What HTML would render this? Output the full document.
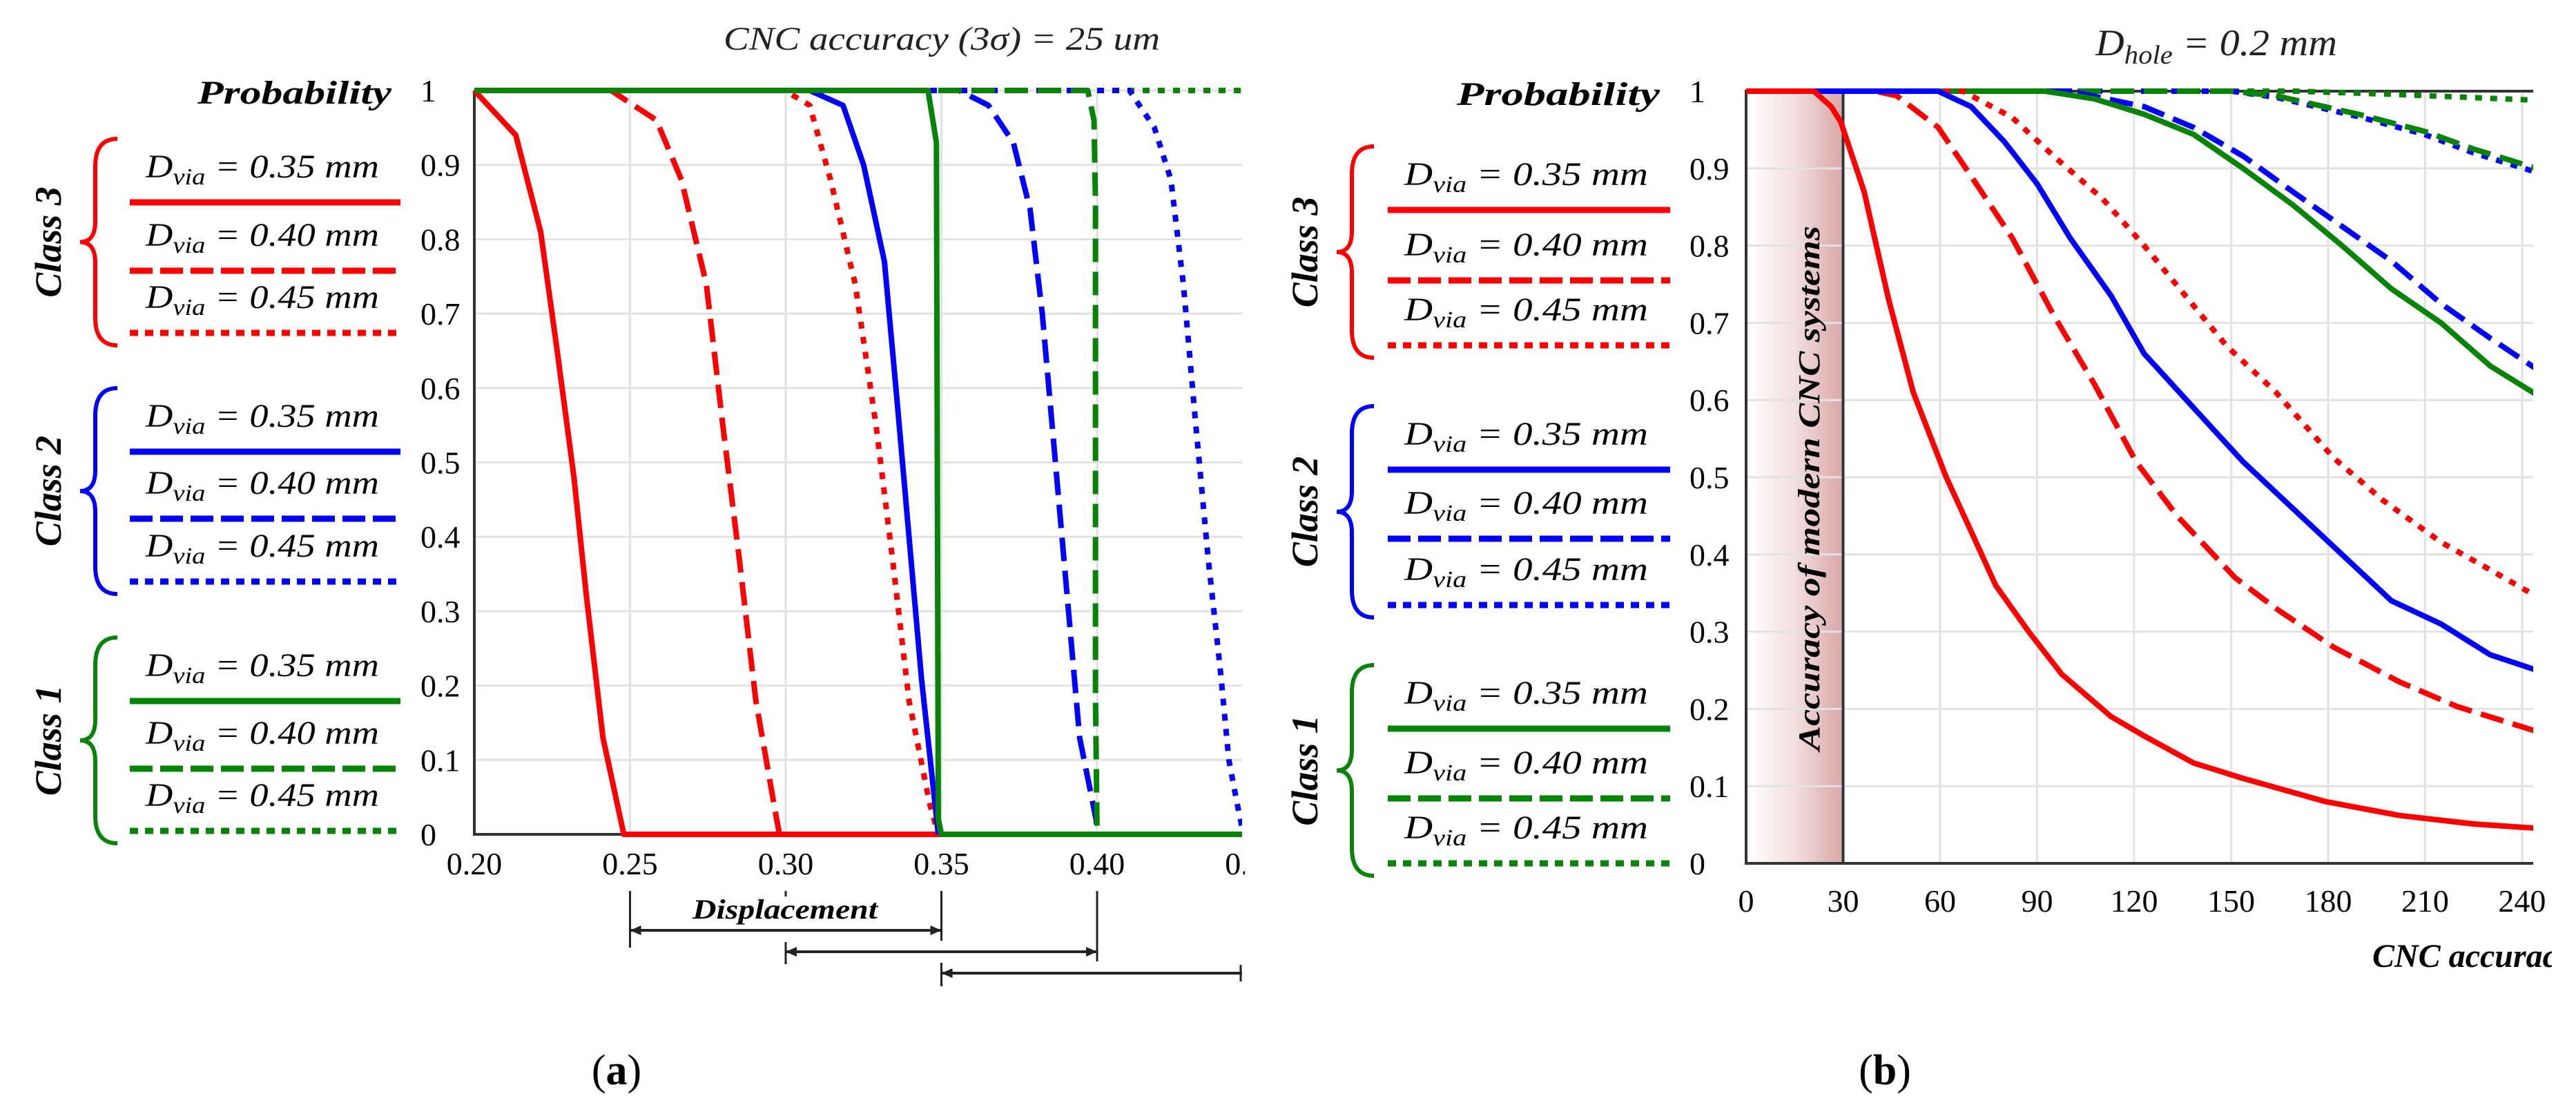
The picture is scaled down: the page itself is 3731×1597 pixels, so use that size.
<!DOCTYPE html>
<html><head><meta charset="utf-8">
<style>
html,body{margin:0;padding:0;background:#fff;}
svg{display:block;}
text{font-family:"Liberation Serif","DejaVu Serif",serif;}
</style></head>
<body>
<svg id="fig" xmlns="http://www.w3.org/2000/svg" width="3731" height="1597" viewBox="0 0 3731 1597">
<defs>
<linearGradient id="bandGrad" x1="0" y1="0" x2="1" y2="0">
<stop offset="0" stop-color="#ffffff"/>
<stop offset="0.5" stop-color="#f1dede"/>
<stop offset="1" stop-color="#d9a7a7"/>
</linearGradient>
<clipPath id="clipL"><rect x="680" y="100" width="1119" height="1130"/></clipPath>
<clipPath id="clipR"><rect x="2520" y="100" width="1149" height="1160"/></clipPath>
<clipPath id="clipRlabel"><rect x="3300" y="1320" width="396" height="120"/></clipPath>
<clipPath id="clipLarrow"><rect x="600" y="1270" width="1199" height="200"/></clipPath>
</defs>
<g id="left"></g>
<g id="right"></g>
</svg>
<script>
// ---------- Panel (a) data: displacement vs probability ----------
const leftXTicks = [0.20, 0.25, 0.30, 0.35, 0.40, 0.45];
const leftXTickLabels = ["0.20", "0.25", "0.30", "0.35", "0.40", "0.45"];
const yTicks = [0, 0.1, 0.2, 0.3, 0.4, 0.5, 0.6, 0.7, 0.8, 0.9, 1];
const yTickLabels = ["0", "0.1", "0.2", "0.3", "0.4", "0.5", "0.6", "0.7", "0.8", "0.9", "1"];

const aRedSolidX = [0.200, 0.2133, 0.2213, 0.2266, 0.232, 0.236, 0.2413, 0.248, 0.35];
const aRedSolidY = [1, 0.94, 0.81, 0.65, 0.48, 0.32, 0.13, 0, 0];
const aRedDashX = [0.200, 0.2439, 0.2585, 0.2665, 0.2745, 0.2798, 0.2851, 0.2904, 0.2971, 0.298];
const aRedDashY = [1, 1, 0.96, 0.88, 0.74, 0.55, 0.37, 0.18, 0.02, 0];
const aRedDotX = [0.200, 0.2997, 0.3077, 0.3144, 0.3223, 0.329, 0.3343, 0.3396, 0.3463, 0.349];
const aRedDotY = [1, 1, 0.98, 0.88, 0.74, 0.55, 0.37, 0.18, 0.04, 0];
const aBlueSolidX = [0.200, 0.3077, 0.3184, 0.325, 0.3317, 0.3356, 0.3396, 0.3436, 0.349];
const aBlueSolidY = [1, 1, 0.98, 0.90, 0.77, 0.59, 0.40, 0.21, 0];
const aBlueDashX = [0.200, 0.3557, 0.3651, 0.3731, 0.3785, 0.3824, 0.3864, 0.3904, 0.3944, 0.3997, 0.4];
const aBlueDashY = [1, 1, 0.98, 0.93, 0.84, 0.70, 0.51, 0.32, 0.13, 0.02, 0];
const aBlueDotX = [0.200, 0.4104, 0.4184, 0.4237, 0.4277, 0.4317, 0.4357, 0.4396, 0.4423, 0.4455, 0.447];
const aBlueDotY = [1, 1, 0.95, 0.88, 0.74, 0.55, 0.37, 0.22, 0.10, 0.03, 0];
const aGreenSolidX = [0.200, 0.3457, 0.3484, 0.349, 0.35, 0.45];
const aGreenSolidY = [1, 1, 0.93, 0.02, 0, 0];
const aGreenDashX = [0.200, 0.397, 0.399, 0.3995, 0.3995, 0.4];
const aGreenDashY = [1, 1, 0.96, 0.85, 0.18, 0];
const aGreenDotX = [0.200, 0.45];
const aGreenDotY = [1, 1];

// ---------- Panel (b) data: CNC accuracy vs probability ----------
const rightXTicks = [0, 30, 60, 90, 120, 150, 180, 210, 240];
const rightXTickLabels = ["0", "30", "60", "90", "120", "150", "180", "210", "240"];

const bRedSolidX = [0, 21, 26.3, 29.3, 36.5, 44.1, 51.7, 61.9, 69.6, 77.2, 87.4, 97.6, 112.9, 123.1, 138.4, 153.7, 179.2, 202.1, 225, 246];
const bRedSolidY = [1, 1, 0.98, 0.96, 0.87, 0.73, 0.61, 0.50, 0.43, 0.36, 0.30, 0.245, 0.19, 0.165, 0.13, 0.11, 0.08, 0.062, 0.051, 0.045];
const bRedDashX = [0, 40, 46.6, 59.4, 69.6, 82.3, 95.1, 107.8, 120.6, 133.3, 151.2, 163.9, 181.7, 202.1, 219.9, 246];
const bRedDashY = [1, 1, 0.994, 0.953, 0.89, 0.81, 0.71, 0.62, 0.52, 0.45, 0.37, 0.33, 0.28, 0.235, 0.203, 0.169];
const bRedDotX = [0, 67, 82.3, 95.1, 110.4, 123.1, 135.9, 148.6, 163.9, 181.7, 197, 214.9, 230.2, 246];
const bRedDotY = [1, 1, 0.966, 0.916, 0.86, 0.80, 0.735, 0.67, 0.61, 0.525, 0.47, 0.416, 0.38, 0.342];
const bBlueSolidX = [0, 59.4, 69.6, 79.8, 90, 100.2, 112.9, 123.1, 138.4, 153.7, 169, 184.3, 199.6, 214.9, 230.2, 246];
const bBlueSolidY = [1, 1, 0.98, 0.935, 0.88, 0.81, 0.735, 0.66, 0.59, 0.52, 0.46, 0.40, 0.34, 0.31, 0.27, 0.248];
const bBlueDashX = [0, 100, 123.1, 138.4, 153.7, 169, 184.3, 199.6, 214.9, 230.2, 246];
const bBlueDashY = [1, 1, 0.98, 0.953, 0.916, 0.87, 0.825, 0.78, 0.725, 0.68, 0.636];
const bBlueDotX = [0, 150, 163.9, 189.4, 209.8, 225, 246];
const bBlueDotY = [1, 1, 0.992, 0.967, 0.944, 0.92, 0.893];
const bGreenSolidX = [0, 92.5, 107.8, 123.1, 138.4, 153.7, 169, 184.3, 199.6, 214.9, 230.2, 246];
const bGreenSolidY = [1, 1, 0.99, 0.97, 0.944, 0.90, 0.853, 0.80, 0.744, 0.70, 0.644, 0.603];
const bGreenDashX = [0, 150, 163.9, 189.4, 209.8, 225, 246];
const bGreenDashY = [1, 1, 0.994, 0.97, 0.948, 0.925, 0.898];
const bGreenDotX = [0, 170, 200, 246];
const bGreenDotY = [1, 1, 0.996, 0.988];

const NS = "http://www.w3.org/2000/svg";
const RED = "#ff0000", BLUE = "#0000ff", GREEN = "#078407";
const DASH = "34 14", DOT = "10 12";

function el(parent, tag, attrs, txt) {
  const e = document.createElementNS(NS, tag);
  for (const k in attrs) e.setAttribute(k, attrs[k]);
  if (txt !== undefined) e.textContent = txt;
  parent.appendChild(e);
  return e;
}

const aX = v => 687 + (v - 0.2) / 0.05 * 225.5;
const aY = p => 1208 - p * 1077;
const bX = v => 2529 + v * 4.683;
const bY = p => 1250 - p * 1118;

function pathFrom(xs, ys, fx, fy) {
  return xs.map((x, i) => (i ? "L" : "M") + fx(x).toFixed(1) + " " + fy(ys[i]).toFixed(1)).join(" ");
}

function drawSeries(g, xs, ys, fx, fy, color, dash, name) {
  const p = el(g, "path", {d: pathFrom(xs, ys, fx, fy), fill: "none", stroke: color, "stroke-width": 8, "stroke-linejoin": "round"});
  if (dash) p.setAttribute("stroke-dasharray", dash);
  
  
}

function legend(g, lineX1, lineX2, textX, textW, lineYs, braceX, classX, prefix) {
  const colors = [RED, BLUE, GREEN];
  const classNames = ["Class 3", "Class 2", "Class 1"];
  const labels = ["0.35", "0.40", "0.45"];
  const dashes = [null, DASH, DOT];
  for (let c = 0; c < 3; c++) {
    const grp = el(g, "g", {});
    
    
    const ys = lineYs.slice(c * 3, c * 3 + 3);
    const top = ys[0] - 92, bot = ys[2] + 18, mid = (top + bot) / 2;
    const br = el(grp, "path", {d: `M${braceX+54} ${top} Q${braceX+22} ${top} ${braceX+22} ${top+40} L${braceX+22} ${mid-30} Q${braceX+22} ${mid} ${braceX} ${mid} Q${braceX+22} ${mid} ${braceX+22} ${mid+30} L${braceX+22} ${bot-40} Q${braceX+22} ${bot} ${braceX+54} ${bot}`, fill: "none", stroke: colors[c], "stroke-width": 6});
    
    
    const ct = el(grp, "text", {x: 0, y: 0, transform: `translate(${classX},${mid}) rotate(-90)`, "text-anchor": "middle", "font-size": 54, "font-weight": "bold", "font-style": "italic"}, classNames[c]);
    
    
    for (let i = 0; i < 3; i++) {
      const t = el(grp, "text", {x: textX, y: ys[i] - 36, "font-size": 48, "font-style": "italic", textLength: textW, lengthAdjust: "spacingAndGlyphs"});
      el(t, "tspan", {}, "D");
      el(t, "tspan", {"font-size": 34, dy: 10}, "via");
      el(t, "tspan", {dy: -10}, " = " + labels[i] + " mm");
      
      
      const ln = el(grp, "line", {x1: lineX1, x2: lineX2, y1: ys[i], y2: ys[i], stroke: colors[c], "stroke-width": 9});
      if (dashes[i]) ln.setAttribute("stroke-dasharray", dashes[i] === DASH ? "33 11" : "12 10");
      
      
    }
  }
}

// ================= Panel A =================
const L = document.getElementById("left");
{
  const t = el(L, "text", {x: 1048, y: 72, "font-size": 48, "font-style": "italic", textLength: 632, lengthAdjust: "spacingAndGlyphs", fill: "#222"}, "CNC accuracy (3σ) = 25 um");
  
  
  const pt = el(L, "text", {x: 567, y: 150, "text-anchor": "end", "font-size": 48, "font-weight": "bold", "font-style": "italic", textLength: 281, lengthAdjust: "spacingAndGlyphs"}, "Probability");
  
  
  const grid = el(L, "g", {});
  
  
  yTicks.forEach((v, i) => {
    if (v > 0) el(grid, "line", {x1: 687, x2: 1799, y1: aY(v), y2: aY(v), stroke: "#e2e2e2", "stroke-width": 3});
    const tl = el(L, "text", {x: 609, y: aY(v) + 16, "font-size": 46}, yTickLabels[i]);
    
    
  });
  leftXTicks.forEach((v, i) => {
    if (v > 0.2 && aX(v) < 1799) el(grid, "line", {x1: aX(v), x2: aX(v), y1: aY(1), y2: aY(0), stroke: "#e2e2e2", "stroke-width": 3});
    const tl = el(L, "text", {x: aX(v), y: 1266, "text-anchor": "middle", "font-size": 46}, leftXTickLabels[i]);
    
    
  });
  el(L, "rect", {x: 1803, y: 1215, width: 60, height: 80, fill: "#fff"});
  const ax = el(L, "path", {d: `M687 ${aY(1)} L687 ${aY(0)} L1799 ${aY(0)}`, fill: "none", stroke: "#333", "stroke-width": 4});
  
  
  const sg = el(L, "g", {"clip-path": "url(#clipL)"});
  
  
  drawSeries(sg, aGreenDotX, aGreenDotY, aX, aY, GREEN, DOT, "class1-045-line");
  drawSeries(sg, aRedSolidX, aRedSolidY, aX, aY, RED, null, "class3-035-line");
  drawSeries(sg, aRedDashX, aRedDashY, aX, aY, RED, DASH, "class3-040-line");
  drawSeries(sg, aRedDotX, aRedDotY, aX, aY, RED, DOT, "class3-045-line");
  drawSeries(sg, aBlueSolidX, aBlueSolidY, aX, aY, BLUE, null, "class2-035-line");
  drawSeries(sg, aBlueDashX, aBlueDashY, aX, aY, BLUE, DASH, "class2-040-line");
  drawSeries(sg, aBlueDotX, aBlueDotY, aX, aY, BLUE, DOT, "class2-045-line");
  drawSeries(sg, aGreenDashX, aGreenDashY, aX, aY, GREEN, DASH, "class1-040-line");
  drawSeries(sg, aGreenSolidX, aGreenSolidY, aX, aY, GREEN, null, "class1-035-line");

  legend(L, 188, 580, 211, 338, [293, 392, 482, 654, 751, 842, 1015, 1113, 1203], 116, 88, "a");

  const dg = el(L, "g", {"clip-path": "url(#clipLarrow)", stroke: "#222", "stroke-width": 3, fill: "#222"});
  
  
  const rows = [[0.25, 0.35, 1347], [0.30, 0.40, 1378], [0.35, 0.50, 1409]];
  rows.forEach(r => {
    const x1 = aX(r[0]), x2 = aX(r[1]), y = r[2];
    el(dg, "line", {x1: x1, x2: x2, y1: y, y2: y, "stroke-width": 4});
    el(dg, "path", {d: `M${x1} ${y} l16 -7 l0 14 z`, stroke: "none"});
    el(dg, "path", {d: `M${x2} ${y} l-16 -7 l0 14 z`, stroke: "none"});
  });
  el(dg, "line", {x1: aX(0.25), x2: aX(0.25), y1: 1290, y2: 1372});
  el(dg, "line", {x1: aX(0.35), x2: aX(0.35), y1: 1290, y2: 1362});
  el(dg, "line", {x1: aX(0.35), x2: aX(0.35), y1: 1394, y2: 1428});
  el(dg, "line", {x1: aX(0.40), x2: aX(0.40), y1: 1290, y2: 1392});
  el(dg, "line", {x1: aX(0.30), x2: aX(0.30), y1: 1364, y2: 1396});
  el(dg, "line", {x1: aX(0.30), x2: aX(0.30), y1: 1290, y2: 1298});
  el(dg, "line", {x1: 1797, x2: 1797, y1: 1397, y2: 1421});
  const dt = el(L, "text", {x: 1137, y: 1330, "text-anchor": "middle", "font-size": 40, "font-weight": "bold", "font-style": "italic", textLength: 268, lengthAdjust: "spacingAndGlyphs"}, "Displacement");
  
  
  const pa = el(L, "text", {x: 893, y: 1570, "text-anchor": "middle", "font-size": 62}, "");
  el(pa, "tspan", {}, "(");
  el(pa, "tspan", {"font-weight": "bold"}, "a");
  el(pa, "tspan", {}, ")");
  
  
}

// ================= Panel B =================
const R = document.getElementById("right");
{
  const t = el(R, "text", {x: 3035, y: 80, "font-size": 54, "font-style": "italic", fill: "#222", textLength: 350, lengthAdjust: "spacingAndGlyphs"}, "");
  el(t, "tspan", {}, "D");
  el(t, "tspan", {"font-size": 38, dy: 12}, "hole");
  el(t, "tspan", {dy: -12}, " = 0.2 mm");
  
  
  const pt = el(R, "text", {x: 2404, y: 152, "text-anchor": "end", "font-size": 48, "font-weight": "bold", "font-style": "italic", textLength: 294, lengthAdjust: "spacingAndGlyphs"}, "Probability");
  
  

  const band = el(R, "rect", {x: 2531, y: bY(1) + 2, width: bX(30) - 2531, height: bY(0) - bY(1) - 4, fill: "url(#bandGrad)"});
  
  

  const grid = el(R, "g", {});
  
  
  yTicks.forEach((v, i) => {
    if (v > 0 && v < 1) el(grid, "line", {x1: 2529, x2: 3669, y1: bY(v), y2: bY(v), stroke: "#e2e2e2", "stroke-width": 3});
    const tl = el(R, "text", {x: 2447, y: bY(v) + 16, "font-size": 46}, yTickLabels[i]);
    
    
  });
  rightXTicks.forEach((v, i) => {
    if (v > 30) el(grid, "line", {x1: bX(v), x2: bX(v), y1: bY(1), y2: bY(0), stroke: "#e2e2e2", "stroke-width": 3});
    const tl = el(R, "text", {x: bX(v), y: 1320, "text-anchor": "middle", "font-size": 46}, rightXTickLabels[i]);
    
    
  });
  el(R, "rect", {x: 3696, y: 1270, width: 40, height: 80, fill: "#fff"});
  const vl = el(R, "line", {x1: bX(30), x2: bX(30), y1: bY(1), y2: bY(0), stroke: "#333", "stroke-width": 4});
  
  
  const bt = el(R, "text", {x: 0, y: 0, transform: `translate(2635,707) rotate(-90)`, "text-anchor": "middle", "font-size": 44, "font-weight": "bold", "font-style": "italic", textLength: 760, lengthAdjust: "spacingAndGlyphs"}, "Accuracy of modern CNC systems");
  
  

  const ax = el(R, "path", {d: `M3669 ${bY(1)} L2529 ${bY(1)} L2529 ${bY(0)} L3669 ${bY(0)}`, fill: "none", stroke: "#333", "stroke-width": 4});
  
  

  const sg = el(R, "g", {"clip-path": "url(#clipR)"});
  
  
  drawSeries(sg, bGreenDotX, bGreenDotY, bX, bY, GREEN, DOT, "class1-045-line");
  drawSeries(sg, bBlueDotX, bBlueDotY, bX, bY, BLUE, DOT, "class2-045-line");
  drawSeries(sg, bGreenDashX, bGreenDashY, bX, bY, GREEN, DASH, "class1-040-line");
  drawSeries(sg, bBlueDashX, bBlueDashY, bX, bY, BLUE, DASH, "class2-040-line");
  drawSeries(sg, bGreenSolidX, bGreenSolidY, bX, bY, GREEN, null, "class1-035-line");
  drawSeries(sg, bRedDotX, bRedDotY, bX, bY, RED, DOT, "class3-045-line");
  drawSeries(sg, bRedDashX, bRedDashY, bX, bY, RED, DASH, "class3-040-line");
  drawSeries(sg, bBlueSolidX, bBlueSolidY, bX, bY, BLUE, null, "class2-035-line");
  drawSeries(sg, bRedSolidX, bRedSolidY, bX, bY, RED, null, "class3-035-line");

  legend(R, 2010, 2419, 2034, 353, [304, 406, 500, 680, 780, 876, 1055, 1156, 1250], 1936, 1908, "b");

  const xl = el(R, "g", {"clip-path": "url(#clipRlabel)"});
  const xt = el(xl, "text", {x: 3436, y: 1400, "font-size": 48, "font-weight": "bold", "font-style": "italic"}, "CNC accuracy (3σ), um");
  
  

  const pb = el(R, "text", {x: 2730, y: 1570, "text-anchor": "middle", "font-size": 62}, "");
  el(pb, "tspan", {}, "(");
  el(pb, "tspan", {"font-weight": "bold"}, "b");
  el(pb, "tspan", {}, ")");
  
  
}
</script>
</body></html>
